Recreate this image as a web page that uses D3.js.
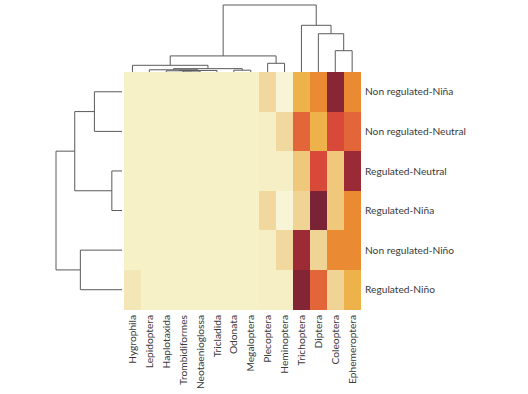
<!DOCTYPE html>
<html>
<head>
<meta charset="utf-8">
<script src="https://cdn.jsdelivr.net/npm/d3@7"></script>
<style>
  body { margin: 0; background: #fff; }
  text { font-family: Lato, "Open Sans", sans-serif; fill: #3a3a3a; }
</style>
</head>
<body>
<svg id="chart"></svg>
<script>
// taxa (columns, in dendrogram order)
var taxa = ['Hygrophila', 'Lepidoptera', 'Haplotaxida', 'Trombidiformes', 'Neotaenioglossa',
  'Tricladida', 'Odonata', 'Megaloptera', 'Plecoptera', 'Heminoptera',
  'Trichoptera', 'Diptera', 'Coleoptera', 'Ephemeroptera'];

// sites (rows, in dendrogram order)
var sites = ['Non regulated-Niña', 'Non regulated-Neutral', 'Regulated-Neutral',
  'Regulated-Niña', 'Non regulated-Niño', 'Regulated-Niño'];

// relative abundance per site, one row per site, same order as taxa
var nrNina    = [0.03, 0.03, 0.03, 0.03, 0.03, 0.03, 0.03, 0.03, 0.15, 0.00, 0.45, 0.60, 0.95, 0.60];
var nrNeutral = [0.03, 0.03, 0.03, 0.03, 0.03, 0.03, 0.03, 0.03, 0.04, 0.15, 0.66, 0.45, 0.72, 0.66];
var rNeutral  = [0.03, 0.03, 0.03, 0.03, 0.03, 0.03, 0.03, 0.03, 0.04, 0.04, 0.30, 0.72, 0.30, 0.89];
var rNina     = [0.03, 0.03, 0.03, 0.03, 0.03, 0.03, 0.03, 0.03, 0.15, 0.00, 0.19, 1.00, 0.30, 0.60];
var nrNino    = [0.03, 0.03, 0.03, 0.03, 0.03, 0.03, 0.03, 0.03, 0.04, 0.15, 0.88, 0.19, 0.60, 0.60];
var rNino     = [0.08, 0.03, 0.03, 0.03, 0.03, 0.03, 0.03, 0.03, 0.04, 0.04, 0.97, 0.66, 0.19, 0.45];
var values = [nrNina, nrNeutral, rNeutral, rNina, nrNino, rNino];

// linkage tables: [left, right, distance]; leaves are 0..n-1, merges are n, n+1, ...
var taxaLinkage = [
  [3, 4, 0.014],    // 14
  [2, 14, 0.018],   // 15
  [15, 5, 0.023],   // 16
  [6, 7, 0.027],    // 17
  [1, 16, 0.033],   // 18
  [18, 17, 0.050],  // 19
  [0, 19, 0.100],   // 20
  [8, 9, 0.130],    // 21
  [20, 21, 0.240],  // 22
  [12, 13, 0.318],  // 23
  [11, 23, 0.571],  // 24
  [10, 24, 0.697],  // 25
  [22, 25, 1.000]   // 26
];
var siteLinkage = [
  [2, 3, 0.154],   // 6
  [0, 1, 0.418],   // 7
  [4, 5, 0.631],   // 8
  [7, 6, 0.716],   // 9
  [9, 8, 1.000]    // 10
];

var W = 528, H = 394;
var svg = d3.select('#chart').attr('width', W).attr('height', H);

var x = d3.scaleBand().domain(taxa).range([124, 360.6]).padding(0);
var y = d3.scaleBand().domain(sites).range([72, 309.5]).padding(0);

var color = d3.scaleLinear()
  .domain([0, 0.03, 0.15, 0.30, 0.45, 0.60, 0.66, 0.72, 0.88, 1.0])
  .range(['#f8f5d7', '#f7f1c8', '#f0d89e', '#efc87c', '#eeb24b', '#ea8a33',
          '#e3653a', '#d9493a', '#9d2b36', '#7b2336'])
  .clamp(true);

// cells
var cells = [];
sites.forEach(function (s, i) {
  taxa.forEach(function (t, j) {
    cells.push({ site: s, taxon: t, value: values[i][j] });
  });
});

svg.append('g')
  .attr('shape-rendering', 'crispEdges')
  .selectAll('rect')
  .data(cells)
  .enter()
  .append('rect')
  .attr('x', function (d) { return x(d.taxon); })
  .attr('y', function (d) { return y(d.site); })
  .attr('width', x.bandwidth() + 0.5)
  .attr('height', y.bandwidth() + 0.5)
  .attr('fill', function (d) { return color(d.value); });

// turn a linkage table into node positions
function buildNodes(linkage, leafPos) {
  var nodes = leafPos.map(function (p) { return { pos: p, h: 0 }; });
  linkage.forEach(function (l) {
    var a = nodes[l[0]], b = nodes[l[1]];
    nodes.push({ pos: (a.pos + b.pos) / 2, h: l[2], a: a, b: b });
  });
  return nodes;
}

var lineColor = '#5a5a5a';

// column dendrogram (top)
var hTop = d3.scaleLinear().domain([0, 1]).range([72, 5]);
var colNodes = buildNodes(taxaLinkage, taxa.map(function (t) { return x(t) + x.bandwidth() / 2; }));
var topG = svg.append('g').attr('fill', 'none').attr('stroke', lineColor).attr('stroke-width', 1);
colNodes.filter(function (n) { return n.a; }).forEach(function (n) {
  var yt = hTop(n.h);
  topG.append('path').attr('d',
    'M' + n.a.pos + ',' + hTop(n.a.h) + 'V' + yt + 'H' + n.b.pos + 'V' + hTop(n.b.h));
});

// row dendrogram (left)
var hLeft = d3.scaleLinear().domain([0, 1]).range([122, 56]);
var rowNodes = buildNodes(siteLinkage, sites.map(function (s) { return y(s) + y.bandwidth() / 2; }));
var leftG = svg.append('g').attr('fill', 'none').attr('stroke', lineColor).attr('stroke-width', 1);
rowNodes.filter(function (n) { return n.a; }).forEach(function (n) {
  var xt = hLeft(n.h);
  leftG.append('path').attr('d',
    'M' + hLeft(n.a.h) + ',' + n.a.pos + 'H' + xt + 'V' + n.b.pos + 'H' + hLeft(n.b.h));
});

// row labels on the right
svg.append('g').selectAll('text')
  .data(sites)
  .enter()
  .append('text')
  .attr('x', 365)
  .attr('y', function (d) { return y(d) + y.bandwidth() / 2; })
  .attr('dy', '0.35em')
  .style('font-size', '10.2px')
  .text(function (d) { return d; });

// column labels, rotated
svg.append('g').selectAll('text')
  .data(taxa)
  .enter()
  .append('text')
  .attr('transform', function (d) {
    return 'translate(' + (x(d) + x.bandwidth() / 2) + ',315) rotate(-90)';
  })
  .attr('dy', '0.35em')
  .attr('text-anchor', 'end')
  .style('font-size', '10.2px')
  .text(function (d) { return d; });
</script>
</body>
</html>
